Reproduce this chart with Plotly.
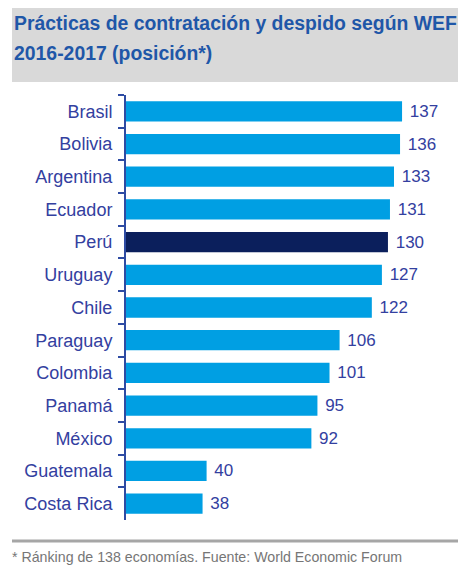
import plotly.graph_objects as go

paises = ["Brasil", "Bolivia", "Argentina", "Ecuador", "Perú", "Uruguay", "Chile",
          "Paraguay", "Colombia", "Panamá", "México", "Guatemala", "Costa Rica"]
posicion = [137, 136, 133, 131, 130, 127, 122, 106, 101, 95, 92, 40, 38]
resaltado = "Perú"

titulo = ["Prácticas de contratación y despido según WEF", "2016-2017 (posición*)"]
nota = "* Ránking de 138 economías. Fuente: World Economic Forum"

FONT = "Liberation Sans, Arial, sans-serif"
AZUL = "#009FE3"
NAVY = "#0B1F5C"
TEXTO = "#3340A0"

colores = [NAVY if p == resaltado else AZUL for p in paises]

fig = go.Figure(go.Bar(
    x=posicion,
    y=paises,
    orientation="h",
    marker=dict(color=colores, line=dict(width=0)),
    width=0.62,
    text=[f" {v}" for v in posicion],
    textposition="outside",
    textfont=dict(family=FONT, size=17, color=TEXTO),
    cliponaxis=False,
))

# the page body has an 8px margin, so the figure sits at (8, 8) in the window
OFF = 8
W, H = 466 - OFF, 569 - OFF
# plot area in window pixels: x 126..466, y 95..520
L, R, T, B = 126 - OFF, 0, 95 - OFF, 49
pw, ph = W - L - R, H - T - B

def px(x):
    return (x - OFF - L) / pw

def py(y):
    return 1 - (y - OFF - T) / ph

fig.add_shape(type="rect", xref="paper", yref="paper",
              x0=px(12), x1=px(470), y0=py(82), y1=py(0),
              fillcolor="#D9D9D9", line=dict(width=0), layer="below")
fig.add_shape(type="line", xref="paper", yref="paper",
              x0=px(12), x1=px(470), y0=py(541), y1=py(541),
              line=dict(color="#A6A6A6", width=3))

for linea, yc in zip(titulo, [23, 53]):
    fig.add_annotation(text="<b>" + linea + "</b>",
                       xref="paper", yref="paper", x=px(12), y=py(yc),
                       xanchor="left", yanchor="middle", align="left", showarrow=False,
                       font=dict(family=FONT, size=19.4, color="#1F57A8"))
fig.add_annotation(text=nota, xref="paper", yref="paper", x=px(10), y=py(557),
                   xanchor="left", yanchor="middle", showarrow=False,
                   font=dict(family=FONT, size=14.2, color="#767676"))

fig.update_yaxes(
    autorange="reversed", automargin=False,
    showline=True, linecolor="#2E4BA3", linewidth=2,
    ticks="outside", ticklen=6, tickcolor="#2E4BA3", tickwidth=2,
    tickson="boundaries", ticklabelstandoff=8,
    tickfont=dict(family=FONT, size=18, color=TEXTO),
    showgrid=False,
)
fig.update_xaxes(range=[0, pw / 2.015], visible=False, showgrid=False, automargin=False)

fig.update_layout(
    width=W, height=H,
    margin=dict(l=L, r=R, t=T, b=B),
    plot_bgcolor="white", paper_bgcolor="white",
    bargap=0.38,
    showlegend=False,
)

fig.write_html("out.html")
